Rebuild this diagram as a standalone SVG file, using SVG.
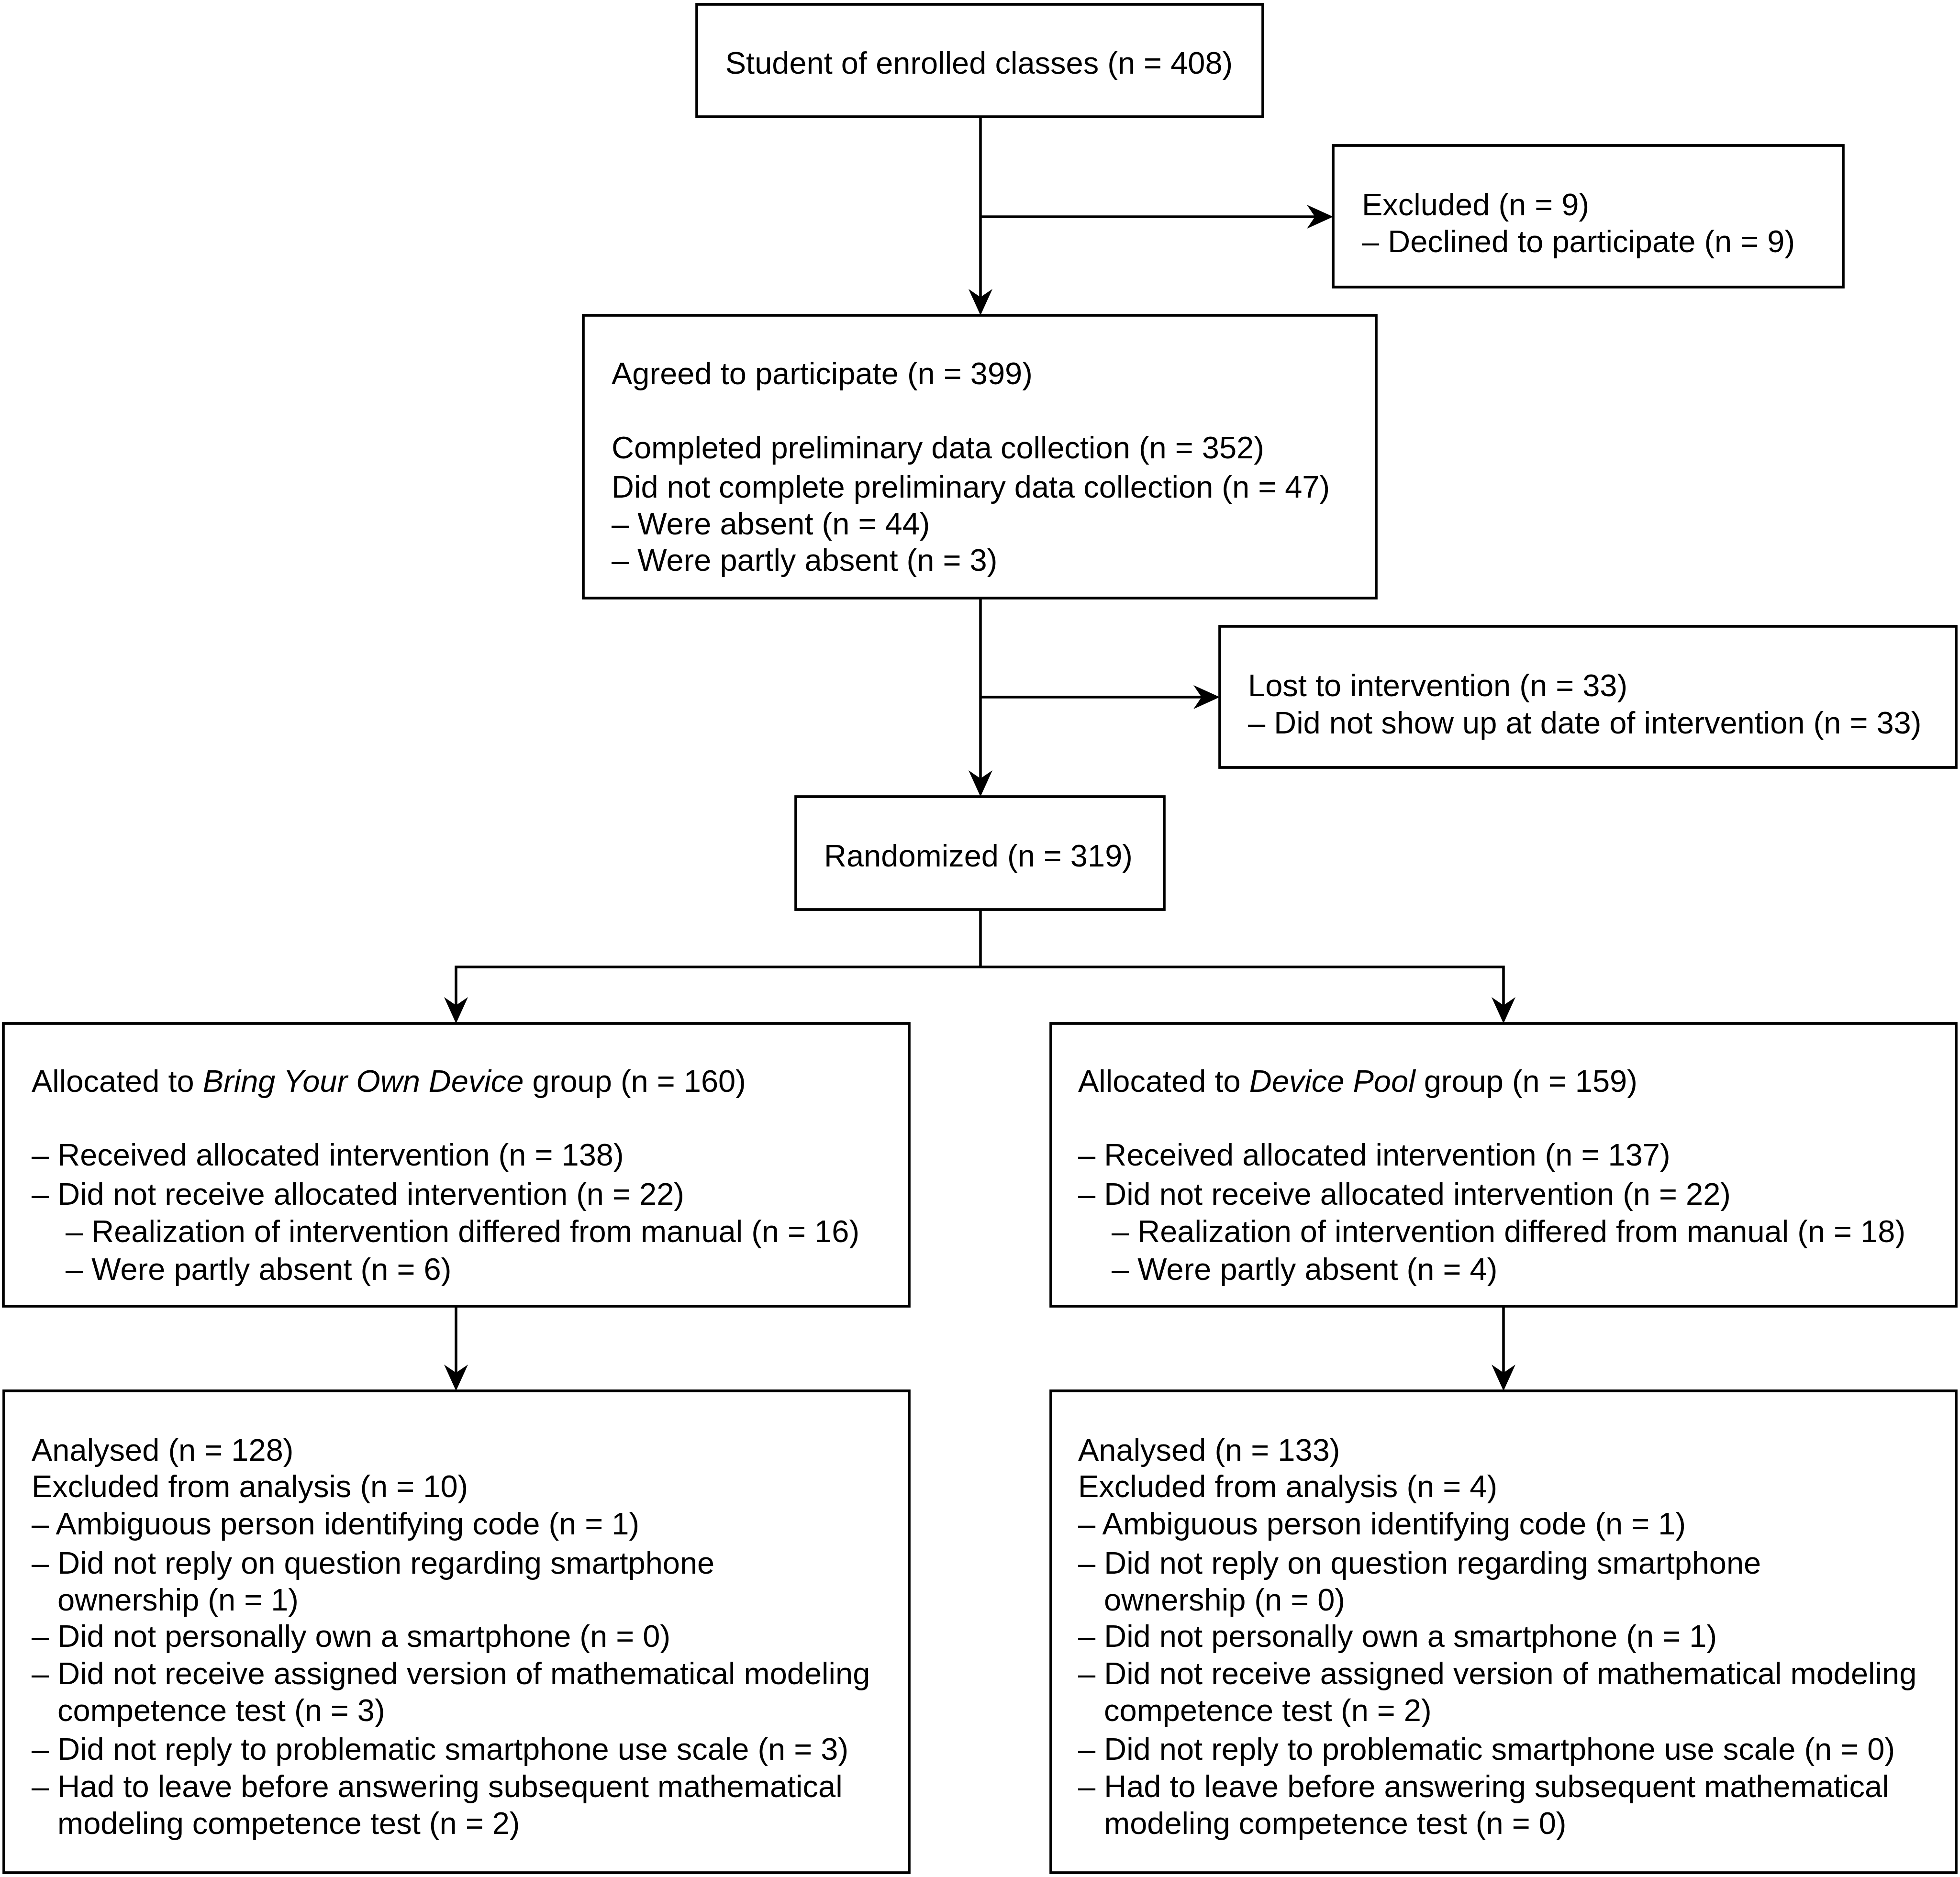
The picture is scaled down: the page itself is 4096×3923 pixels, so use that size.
<svg xmlns="http://www.w3.org/2000/svg" width="4096" height="3923" viewBox="0 0 4096 3923">
<style>
.box{fill:#fff;stroke:#000;stroke-width:5.7}
.con{fill:none;stroke:#000;stroke-width:5.5;marker-end:url(#ah)}
.ln{fill:none;stroke:#000;stroke-width:5.5}
text{font-family:"Liberation Sans",Arial,Helvetica,sans-serif;font-size:65px;fill:#000}
.it{font-style:italic}
</style>
<defs>
<marker id="ah" markerUnits="userSpaceOnUse" markerWidth="70" markerHeight="70" viewBox="-30 -35 70 70" refX="0" refY="0" orient="auto" overflow="visible">
<path d="M38,0 L-17,-25 L0,0 L-17,25 Z" fill="#000"/>
</marker>
</defs>
<rect width="4096" height="3923" fill="#fff"/>
<g id="connectors">
<path class="con" d="M2049,244 V621"/>
<path class="con" d="M2049,453 H2748"/>
<path class="con" d="M2049,1250 V1627"/>
<path class="con" d="M2049,1457 H2511"/>
<path class="ln" d="M2049,1901 V2021"/>
<path class="con" d="M2049,2021 H953 V2101"/>
<path class="con" d="M2049,2021 H3142 V2101"/>
<path class="con" d="M953,2730 V2869"/>
<path class="con" d="M3142,2730 V2869"/>
</g>
<g id="enrolled">
<rect class="box" x="1456" y="9" width="1183" height="235"/>
<text x="2046" y="154" text-anchor="middle">Student of enrolled classes (n = 408)</text>
</g>
<g id="excluded">
<rect class="box" x="2786" y="304" width="1066" height="296"/>
<text x="2846" y="450">Excluded (n = 9)</text>
<text x="2846" y="527">– Declined to participate (n = 9)</text>
</g>
<g id="agreed">
<rect class="box" x="1219" y="659" width="1657" height="591"/>
<text x="1278" y="803">Agreed to participate (n = 399)</text>
<text x="1278" y="958">Completed preliminary data collection (n = 352)</text>
<text x="1278" y="1040">Did not complete preliminary data collection (n = 47)</text>
<text x="1278" y="1117">– Were absent (n = 44)</text>
<text x="1278" y="1193">– Were partly absent (n = 3)</text>
</g>
<g id="lost">
<rect class="box" x="2549" y="1309" width="1539" height="295"/>
<text x="2608" y="1455">Lost to intervention (n = 33)</text>
<text x="2608" y="1533">– Did not show up at date of intervention (n = 33)</text>
</g>
<g id="randomized">
<rect class="box" x="1663" y="1665" width="770" height="236"/>
<text x="1722" y="1811">Randomized (n = 319)</text>
</g>
<g id="byod">
<rect class="box" x="7" y="2139" width="1893" height="591"/>
<text x="66" y="2282">Allocated to <tspan class="it">Bring Your Own Device</tspan> group (n = 160)</text>
<text x="66" y="2436">– Received allocated intervention (n = 138)</text>
<text x="66" y="2518">– Did not receive allocated intervention (n = 22)</text>
<text x="137" y="2596">– Realization of intervention differed from manual (n = 16)</text>
<text x="137" y="2675">– Were partly absent (n = 6)</text>
</g>
<g id="pool">
<rect class="box" x="2196" y="2139" width="1892" height="591"/>
<text x="2253" y="2282">Allocated to <tspan class="it">Device Pool</tspan> group (n = 159)</text>
<text x="2253" y="2436">– Received allocated intervention (n = 137)</text>
<text x="2253" y="2518">– Did not receive allocated intervention (n = 22)</text>
<text x="2323" y="2596">– Realization of intervention differed from manual (n = 18)</text>
<text x="2323" y="2675">– Were partly absent (n = 4)</text>
</g>
<g id="analysed-byod">
<rect class="box" x="8" y="2907" width="1892" height="1007"/>
<text x="66" y="3053">Analysed (n = 128)</text>
<text x="66" y="3129">Excluded from analysis (n = 10)</text>
<text x="66" y="3207">– Ambiguous person identifying code (n = 1)</text>
<text x="66" y="3289">– Did not reply on question regarding smartphone</text>
<text x="120" y="3366">ownership (n = 1)</text>
<text x="66" y="3442">– Did not personally own a smartphone (n = 0)</text>
<text x="66" y="3520">– Did not receive assigned version of mathematical modeling</text>
<text x="120" y="3597">competence test (n = 3)</text>
<text x="66" y="3678">– Did not reply to problematic smartphone use scale (n = 3)</text>
<text x="66" y="3756">– Had to leave before answering subsequent mathematical</text>
<text x="120" y="3833">modeling competence test (n = 2)</text>
</g>
<g id="analysed-pool">
<rect class="box" x="2196" y="2907" width="1892" height="1007"/>
<text x="2253" y="3053">Analysed (n = 133)</text>
<text x="2253" y="3129">Excluded from analysis (n = 4)</text>
<text x="2253" y="3207">– Ambiguous person identifying code (n = 1)</text>
<text x="2253" y="3289">– Did not reply on question regarding smartphone</text>
<text x="2307" y="3366">ownership (n = 0)</text>
<text x="2253" y="3442">– Did not personally own a smartphone (n = 1)</text>
<text x="2253" y="3520">– Did not receive assigned version of mathematical modeling</text>
<text x="2307" y="3597">competence test (n = 2)</text>
<text x="2253" y="3678">– Did not reply to problematic smartphone use scale (n = 0)</text>
<text x="2253" y="3756">– Had to leave before answering subsequent mathematical</text>
<text x="2307" y="3833">modeling competence test (n = 0)</text>
</g>
</svg>
